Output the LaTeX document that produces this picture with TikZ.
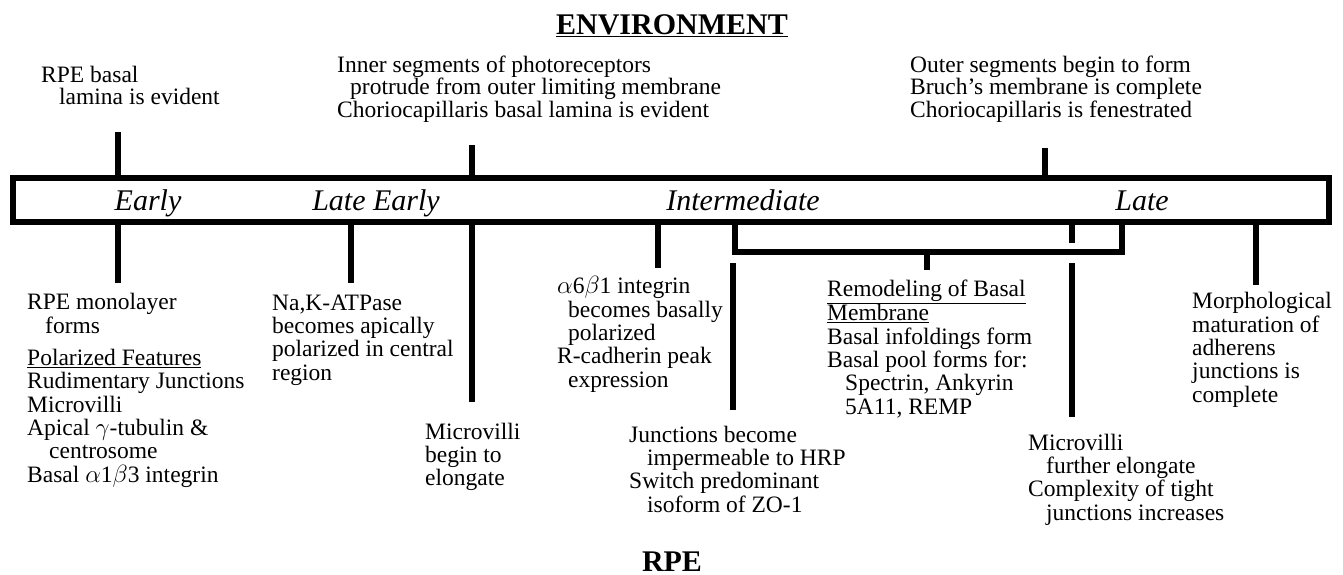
\documentclass[tikz,border=0pt]{standalone}
\usepackage{fontspec}
\setmainfont{Liberation Serif}
\begin{document}
\begin{tikzpicture}[x=1pt,y=-1pt,
  txt/.style={anchor=base west,inner sep=0pt,align=left,font=\fontsize{23.5}{23.3}\selectfont},
  toptxt/.style={txt,font=\fontsize{23.5}{22.5}\selectfont},
  lbl/.style={anchor=base,inner sep=0pt,font=\fontsize{30}{30}\selectfont\itshape},
  ttl/.style={anchor=base,inner sep=0pt,font=\fontsize{30}{30}\selectfont\bfseries},
  tick/.style={line width=5.5pt}]
\useasboundingbox (0,0) rectangle (1343,574);

% titles
\node[ttl] (env) at (672,34) {\underline{ENVIRONMENT}};
\node[ttl] (rpe) at (672,571) {RPE};

% central bar
\node[draw,line width=6.5pt,minimum width=1316pt,minimum height=44pt,inner sep=0pt] (bar) at (671,200) {};
\node[lbl] (early) at (148,210) {Early};
\node[lbl] (lateearly) at (376,210) {Late Early};
\node[lbl] (inter) at (743,210) {Intermediate};
\node[lbl] (late) at (1142,210) {Late};

% top texts (anchor = baseline of the last line)
\node[toptxt] (t1) at (41,104.5) {RPE basal\\\hspace*{18pt}lamina is evident};
\node[toptxt] (t2) at (337,117) {Inner segments of photoreceptors\\\hspace*{13pt}protrude from outer limiting membrane\\Choriocapillaris basal lamina is evident};
\node[toptxt] (t3) at (910,117) {Outer segments begin to form\\Bruch's membrane is complete\\Choriocapillaris is fenestrated};

% top ticks
\coordinate (u1) at (118,132);
\coordinate (u2) at (472,145);
\coordinate (u3) at (1045,148);
\draw[tick] (u1) -- (u1 |- bar.north);
\draw[tick] (u2) -- (u2 |- bar.north);
\draw[tick] (u3) -- (u3 |- bar.north);

% bottom ticks
\coordinate (d1) at (118,283);
\coordinate (d2) at (351,283);
\coordinate (d3) at (472,402);
\coordinate (d4) at (658,268);
\coordinate (d5) at (1072,243);
\coordinate (d6) at (1256,285);
\foreach \c in {d1,d2,d3,d4,d5,d6} \draw[tick] (\c) -- (\c |- bar.south);

% bracket
\coordinate (bl) at (735,252);
\coordinate (br) at (1122,252);
\coordinate (bm) at (927,252);
\coordinate (bmd) at (927,270);
\draw[tick] (bl |- bar.south) -- (bl) -- (br) -- (br |- bar.south);
\draw[tick] (bm) -- (bmd);

% long free lines
\coordinate (l1a) at (733,263);
\coordinate (l1b) at (733,410);
\coordinate (l2a) at (1072,263);
\coordinate (l2b) at (1072,417);
\draw[tick] (l1a) -- (l1b);
\draw[tick] (l2a) -- (l2b);

% bottom texts (anchor = baseline of the last line)
\node[txt] (b1) at (27,482) {RPE monolayer\\\hspace*{18pt}forms\\[9pt]\underline{Polarized Features}\\Rudimentary Junctions\\Microvilli\\Apical $\gamma$-tubulin \&\\\hspace*{22pt}centrosome\\Basal $\alpha$1$\beta$3 integrin};
\node[txt] (b2) at (272,380) {Na,K-ATPase\\becomes apically\\polarized in central\\region};
\node[txt] (b3) at (425,485.6) {Microvilli\\begin to\\elongate};
\node[txt] (b4) at (557,387) {$\alpha$6$\beta$1 integrin\\\hspace*{11pt}becomes basally\\\hspace*{11pt}polarized\\R-cadherin peak\\\hspace*{11pt}expression};
\node[txt] (b5) at (629,512) {Junctions become\\\hspace*{18pt}impermeable to HRP\\Switch predominant\\\hspace*{18pt}isoform of ZO-1};
\node[txt] (b6) at (827,414) {\underline{Remodeling of Basal}\\\underline{Membrane}\\Basal infoldings form\\Basal pool forms for:\\\hspace*{18pt}Spectrin, Ankyrin\\\hspace*{18pt}5A11, REMP};
\node[txt] (b7) at (1028,520) {Microvilli\\\hspace*{18pt}further elongate\\Complexity of tight\\\hspace*{18pt}junctions increases};
\node[txt] (b8) at (1192,402) {Morphological\\maturation of\\adherens\\junctions is\\complete};
\end{tikzpicture}
\end{document}
